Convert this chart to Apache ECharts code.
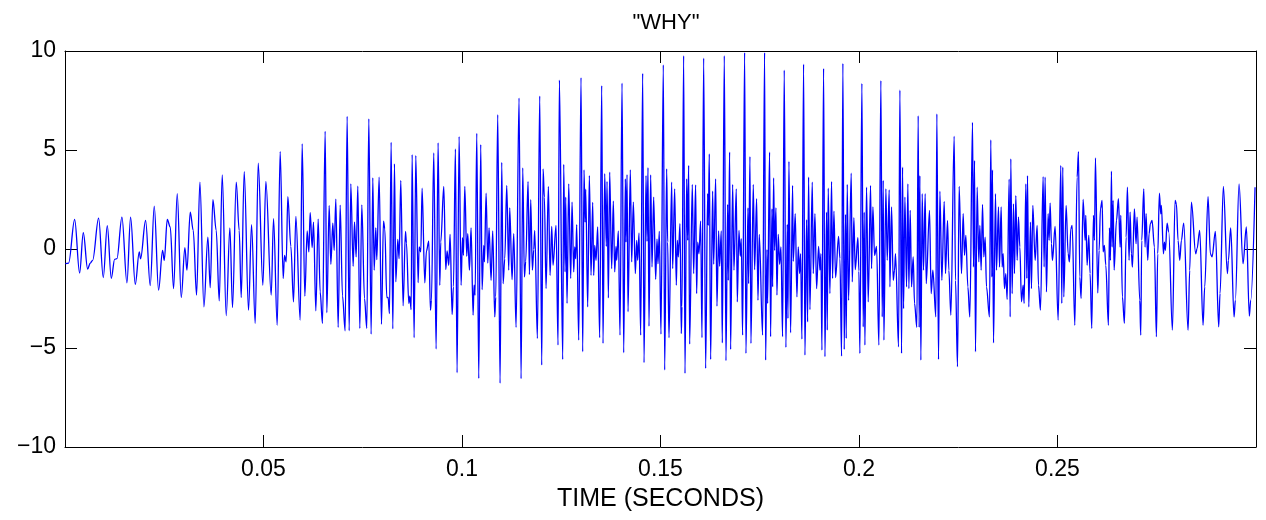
<!DOCTYPE html>
<html><head><meta charset="utf-8">
<script src="https://cdn.jsdelivr.net/npm/echarts@6/dist/echarts.min.js"></script>
<style>html,body{margin:0;padding:0;background:#fff}#c{width:1266px;height:520px}</style>
</head><body><div id="c"></div>
<script>
// waveform turning points: [time in ms, amplitude]
const wave000to050 = [[0.08,-0.74],[0.91,-0.71],[2.43,1.49],[3.68,-1.21],[4.61,0.82],[5.70,-1.01],[6.37,-0.71],[6.96,-0.57],[8.47,1.56],[9.64,-1.44],[10.65,1.18],[11.66,-1.48],[12.50,-0.52],[13.08,-0.49],[14.34,1.61],[15.60,-1.71],[16.52,1.61],[17.70,-1.78],[18.71,-0.15],[19.04,-0.49],[20.30,1.44],[21.47,-1.85],[22.48,2.17],[23.57,-2.08],[24.58,-0.07],[25.00,-0.57],[25.76,1.49],[26.51,1.11],[27.35,-2.00],[28.27,2.79],[29.28,-2.45],[30.20,0.07],[30.71,-1.07],[31.55,1.86],[32.30,0.94],[33.14,-2.33],[33.98,3.38],[34.99,-2.92],[35.99,0.60],[36.58,-1.95],[37.25,2.49],[38.09,0.94],[38.85,-2.62],[39.60,3.74],[40.61,-3.36],[41.53,1.07],[42.20,-2.96],[43.13,3.38],[43.88,0.94],[44.39,-2.45],[45.14,3.91],[46.23,-3.09],[46.99,1.23],[47.91,-3.76],[48.67,4.33],[49.84,-1.83]];
const wave050to100 = [[50.60,3.41],[51.94,-2.33],[52.53,1.53],[53.45,-3.85],[54.20,4.92],[54.96,-1.49],[55.29,-0.32],[55.71,-0.65],[56.13,2.65],[56.89,0.13],[57.56,-2.67],[58.15,1.65],[59.24,-3.59],[59.74,5.31],[60.41,-2.38],[61.00,0.91],[61.42,-0.15],[61.76,1.83],[62.26,0.07],[62.60,1.36],[63.18,-3.12],[63.77,1.51],[64.27,-2.17],[64.86,-3.76],[65.53,5.94],[65.95,-3.22],[66.54,2.20],[66.96,-0.77],[67.46,1.31],[67.80,-0.07],[68.22,2.52],[68.81,-3.96],[69.31,2.22],[69.90,-2.37],[70.57,-4.13],[71.07,6.70],[71.58,-4.13],[71.99,3.29],[72.58,-0.87],[72.92,1.36],[73.34,-0.40],[73.76,3.17],[74.26,-4.01],[74.76,2.23],[75.44,-2.50],[76.02,-4.01],[76.53,6.57],[77.11,-4.30],[77.53,3.59],[77.87,-1.07],[78.29,1.07],[78.54,-0.54],[79.13,3.63],[79.72,-3.80],[80.22,1.41],[80.55,1.02],[81.06,-2.45],[81.39,-2.45],[81.73,-3.26],[82.15,5.39],[82.57,-4.03],[82.99,4.30],[83.32,-1.66],[83.83,0.49],[84.16,-0.49],[84.58,3.46],[85.17,-2.87],[85.76,0.89],[86.01,0.30],[86.60,-2.75],[86.85,-2.38],[87.19,-3.06],[87.44,4.77],[87.94,-4.48],[88.36,4.72],[88.95,-1.70],[89.20,0.10],[89.62,-0.15],[89.95,3.07],[90.63,-1.71],[91.04,-0.10],[91.63,0.40],[92.05,-3.09],[92.30,-2.59],[92.89,4.85],[93.48,-5.05],[93.98,5.36],[94.40,-1.83],[94.65,0.35],[95.41,3.16],[95.91,-1.04],[96.25,-0.10],[96.67,-0.82],[97.00,0.74],[97.51,-3.31],[97.84,-1.91],[98.34,5.05],[98.76,-6.25],[99.27,5.68],[99.77,-1.83]];
const wave100to150 = [[100.11,0.57],[100.36,-0.32],[100.70,3.16],[101.20,-0.37],[101.45,0.77],[101.87,-1.07],[102.29,1.07],[102.79,-3.34],[103.04,-1.83],[103.30,-2.33],[103.72,5.84],[104.22,-6.53],[104.72,5.27],[105.06,-2.05],[105.48,0.18],[105.65,-0.65],[106.07,2.82],[106.49,-0.71],[106.82,1.07],[107.32,-1.58],[107.74,0.91],[108.25,-3.43],[108.50,-2.42],[109.00,6.78],[109.59,-6.78],[110.01,4.38],[110.35,-1.75],[110.77,-0.49],[111.27,3.21],[111.77,-1.07],[112.02,2.08],[112.61,-1.54],[113.03,0.77],[113.62,-3.96],[114.37,7.62],[114.88,-6.55],[115.30,4.10],[115.72,-1.41],[116.05,-0.62],[116.64,3.41],[116.98,-1.29],[117.31,2.49],[117.73,-1.07],[118.07,-0.03],[118.32,0.94],[118.99,-4.52],[119.58,7.72],[120.08,-5.86],[120.42,4.05],[120.75,2.62],[121.17,-2.00],[121.76,3.16],[122.18,-1.33],[122.60,1.14],[122.93,-0.82],[123.69,1.19],[124.19,-4.85],[124.53,8.53],[125.37,-5.58],[125.62,4.27],[125.96,-1.16],[126.12,2.62],[126.46,-2.75],[126.88,3.29],[127.38,-1.49],[127.72,2.37],[128.14,-1.16],[128.39,0.10],[128.64,-0.49],[128.89,1.23],[129.40,-4.60],[129.98,8.66],[130.40,-5.19],[130.74,4.00],[130.99,1.36],[131.16,3.02],[131.66,-2.92],[132.08,3.71],[132.50,-1.33],[132.92,2.35],[133.17,-1.33],[133.43,0.18],[133.76,-0.57],[134.18,1.11],[134.68,-4.48],[135.19,8.25],[135.52,-4.77],[135.94,3.80],[136.36,0.13],[136.53,3.41],[136.87,-2.47],[137.20,3.88],[137.70,-0.99],[138.12,2.42],[138.46,-1.16],[138.79,0.13],[138.96,-0.57],[139.38,0.91],[139.80,-4.35],[140.31,8.38],[140.73,-5.24],[141.15,3.54],[141.31,0.35],[141.57,3.76],[141.82,-3.17],[142.40,4.00],[142.74,-0.65],[143.16,2.37],[143.66,-1.24],[144.00,0.44],[144.25,-0.57],[144.59,0.81],[145.01,-4.35],[145.51,8.87],[145.85,-5.74],[146.35,3.71],[146.60,0.39],[146.85,4.11],[147.10,-3.90],[147.52,3.74],[147.86,-0.91],[148.28,2.62],[148.78,-1.53],[149.12,0.50],[149.37,-0.74],[149.70,0.89]];
const wave150to200 = [[150.12,-4.30],[150.71,9.30],[151.05,-6.11],[151.55,4.05],[151.80,0.35],[152.14,-4.48],[152.81,3.38],[153.06,-0.99],[153.57,3.04],[153.98,-1.83],[154.24,0.44],[154.49,-0.40],[154.91,1.28],[155.24,-4.27],[155.41,-2.92],[155.83,9.76],[156.17,-6.28],[156.59,3.54],[156.84,0.44],[157.09,4.22],[157.34,-4.80],[158.01,3.26],[158.35,-1.24],[158.85,3.24],[159.10,-2.25],[159.36,0.35],[159.69,-0.24],[160.11,1.41],[160.45,-4.48],[160.87,9.64],[161.37,-6.03],[161.87,2.79],[162.04,1.19],[162.29,4.80],[162.63,-5.58],[163.13,2.92],[163.39,-0.77],[163.89,3.54],[164.22,-2.89],[164.64,0.91],[164.89,-0.87],[165.31,0.91],[165.57,-4.74],[166.07,9.76],[166.49,-5.64],[166.91,2.25],[167.08,-1.58],[167.41,4.89],[167.66,-5.07],[168.17,3.26],[168.50,-1.07],[169.09,3.04],[169.34,-2.67],[169.76,0.94],[170.10,-0.37],[170.35,0.52],[170.68,-4.35],[171.19,9.92],[171.52,-5.27],[172.03,2.08],[172.19,-1.75],[172.53,4.67],[172.78,-4.77],[173.37,3.26],[173.71,-1.04],[174.21,2.54],[174.55,-2.59],[174.88,0.74],[175.72,-4.35],[176.22,9.92],[176.48,-5.61],[176.81,-0.03],[176.98,-2.75],[177.48,4.89],[177.73,-4.43],[178.07,2.03],[178.24,-1.91],[178.49,3.59],[178.74,-0.07],[179.08,2.08],[179.33,-2.33],[179.66,0.74],[180.00,-0.77],[180.34,0.10],[180.75,-4.43],[181.17,9.03],[181.59,-4.97],[181.93,1.24],[182.10,-3.51],[182.35,4.42],[182.77,-4.23],[183.27,3.21],[183.44,-0.62],[183.94,1.78],[184.36,-2.42],[184.70,0.10],[185.03,-1.24],[185.29,-0.24],[185.62,-4.55],[186.04,9.34],[186.38,-5.36],[186.80,1.48],[187.05,-3.68],[187.30,3.63],[187.64,-3.06],[188.23,3.38],[188.48,-1.24],[188.90,1.78],[189.32,-2.00],[189.82,0.13],[190.16,-1.07],[190.41,-0.24],[190.66,-5.11],[191.08,9.12],[191.42,-5.44],[191.83,1.86],[192.00,-4.10],[192.25,3.07],[192.67,-2.25],[193.09,3.41],[193.34,-1.49],[193.68,1.91],[194.10,-1.44],[194.85,0.64],[195.19,-0.49],[195.61,-5.41],[195.94,9.37],[196.28,-5.07],[196.61,1.75],[196.78,-4.52],[197.04,3.26],[197.37,-2.59],[198.04,3.83],[198.30,-1.66],[198.71,1.58],[199.05,-1.04],[199.72,0.57],[199.97,-1.11]];
const wave200to250 = [[200.22,-5.27],[200.73,8.36],[201.06,-3.93],[201.32,1.86],[201.48,-4.85],[201.90,3.12],[202.32,-2.67],[202.91,3.21],[203.16,-0.99],[203.50,2.12],[203.92,-0.32],[204.42,0.13],[205.01,-4.85],[205.51,8.50],[205.85,-3.43],[206.10,3.46],[206.27,-4.60],[206.77,3.04],[207.11,-0.57],[207.61,2.99],[207.78,-1.91],[208.20,2.12],[208.62,-1.58],[208.95,-1.07],[209.20,-0.24],[209.96,-4.94],[210.30,8.03],[210.72,-5.27],[210.97,4.13],[211.22,-3.01],[211.56,2.62],[211.98,-1.91],[212.31,3.29],[212.56,-2.00],[212.90,1.95],[213.23,-1.91],[213.65,-0.40],[213.99,-2.75],[214.57,-3.96],[214.91,6.73],[215.16,-3.96],[215.33,3.71],[215.58,-5.61],[215.92,2.79],[216.25,-1.07],[216.67,2.79],[216.93,-1.75],[217.76,1.95],[218.18,-2.25],[218.60,-1.07],[219.36,-3.43],[219.61,6.82],[220.03,-5.58],[220.37,2.92],[220.87,-1.58],[221.46,2.40],[221.79,-1.24],[222.30,1.44],[222.63,-1.07],[223.14,-3.34],[223.97,5.69],[224.31,-1.58],[224.81,-5.94],[225.23,3.16],[225.82,-1.24],[226.24,1.78],[226.58,-0.32],[226.91,0.69],[227.42,-1.91],[227.92,-3.43],[228.59,6.40],[228.84,-0.91],[229.10,4.47],[229.34,-5.19],[229.76,3.12],[230.18,-0.65],[230.44,1.19],[230.77,-1.07],[231.11,2.25],[231.44,-0.40],[231.78,0.60],[232.11,-1.91],[232.87,-3.43],[233.20,5.51],[233.46,-1.41],[233.62,4.00],[233.88,-4.74],[234.38,2.79],[234.63,-1.07],[235.14,2.12],[235.39,-0.91],[235.81,2.12],[236.06,-0.91],[236.31,-0.24],[236.65,-2.00],[236.98,-1.24],[237.32,-2.55],[237.82,3.53],[238.08,-3.43],[238.24,4.55],[238.58,-2.25],[238.91,2.28],[239.16,-1.24],[239.50,2.70],[239.84,-0.57],[240.17,1.61],[240.51,0.10],[240.93,-2.67],[241.35,-1.83],[241.60,-2.75],[242.02,3.29],[242.27,-1.49],[242.44,3.71],[242.77,-2.92],[243.19,1.36],[243.44,-2.00],[243.78,2.20],[244.37,-0.57],[244.87,1.19],[245.21,-1.83],[245.71,-3.09],[246.38,3.66],[246.63,-0.91],[246.88,3.63],[247.22,-2.17],[247.64,1.78],[247.89,0.44],[248.14,2.32],[248.48,0.27],[248.73,-0.57],[249.40,1.14],[250.16,-3.59]];
const wave250to300 = [[250.83,4.22],[251.08,-2.75],[251.33,4.13],[251.58,-2.42],[252.17,2.20],[252.68,-0.24],[253.01,-0.65],[253.35,1.02],[253.69,1.19],[254.36,-3.85],[254.94,3.63],[255.28,4.92],[255.61,-1.41],[255.95,-2.50],[256.45,2.50],[256.96,0.44],[257.12,1.70],[257.46,-0.82],[257.88,0.69],[258.21,-1.24],[258.63,-4.01],[259.05,1.70],[259.31,0.44],[259.56,4.60],[260.14,-2.22],[260.48,-0.07],[260.82,2.03],[261.24,2.45],[261.49,-0.15],[261.82,0.18],[262.16,-0.82],[262.83,-3.85],[263.08,1.07],[263.33,-0.57],[263.59,3.93],[263.76,0.10],[264.01,2.45],[264.26,-1.07],[264.85,1.44],[265.35,2.54],[265.77,0.10],[265.94,1.70],[266.35,-2.42],[266.86,-3.76],[267.28,0.60],[267.61,3.12],[268.03,-0.57],[268.28,1.86],[268.62,-0.24],[268.87,-0.91],[269.37,2.03],[269.79,0.27],[270.04,1.61],[270.72,-2.59],[270.97,-4.35],[271.22,0.44],[271.73,3.04],[272.06,0.10],[272.31,1.78],[272.73,-0.57],[273.07,0.77],[273.40,1.28],[273.82,1.44],[274.41,0.10],[274.91,-4.43],[275.25,-0.24],[275.67,2.82],[276.01,1.78],[276.17,2.20],[276.68,-0.24],[276.93,0.35],[277.18,-0.07],[277.60,1.31],[278.02,0.86],[278.94,-4.10],[279.62,2.45],[279.95,2.28],[280.37,0.44],[280.79,-0.57],[281.21,0.44],[281.80,1.31],[282.89,-4.10],[283.30,-1.07],[283.73,2.37],[284.82,-0.24],[285.15,0.02],[285.82,0.94],[286.66,-3.85],[287.08,-1.91],[287.92,2.65],[288.51,-0.24],[288.93,-0.40],[289.77,0.89],[290.60,-3.93],[290.94,-2.25],[291.78,3.16],[292.79,-1.24],[293.04,-0.57],[293.63,1.07],[294.47,-3.43],[294.80,-2.59],[295.73,3.29],[296.73,-0.74],[297.57,1.11],[298.32,-3.39],[298.66,-2.59],[299.76,3.12]];

const xTickValues = [0.05, 0.1, 0.15, 0.2, 0.25];
const yTickValues = [-10, -5, 0, 5, 10];
const xRange = [0, 0.3];
const yRange = [-10, 10];
const chartTitle = '"WHY"';
const xAxisTitle = 'TIME (SECONDS)';

const points = [].concat(wave000to050, wave050to100, wave100to150, wave150to200, wave200to250, wave250to300)
  .map(p => [p[0] / 1000, p[1]]);

const FONT = "'Liberation Sans', Arial, Helvetica, sans-serif";
const black = '#000';
const tickCommon = { show: true, inside: true, length: 12, lineStyle: { color: black, width: 1 } };

function fmtX(v) {
  const ok = xTickValues.some(t => Math.abs(t - v) < 1e-9);
  return ok ? String(+v.toFixed(2)) : '';
}
function fmtY(v) {
  return String(v).replace('-', '\u2212');
}

const chart = echarts.init(document.getElementById('c'), null, { renderer: 'canvas' });
chart.setOption({
  animation: false,
  backgroundColor: '#fff',
  title: {
    text: chartTitle, left: 661, top: 7, textAlign: 'center',
    textStyle: { fontFamily: FONT, fontSize: 22, fontWeight: 'normal', color: black }
  },
  grid: { left: 65, right: 10, top: 51, bottom: 73, containLabel: false, show: false },
  xAxis: [
    {
      type: 'value', min: xRange[0], max: xRange[1], interval: 0.05, position: 'bottom',
      axisLine: { show: true, onZero: false, lineStyle: { color: black, width: 1 } },
      axisTick: tickCommon,
      axisLabel: { show: true, formatter: fmtX, margin: 11, fontFamily: FONT, fontSize: 23, color: black, showMinLabel: true, showMaxLabel: true },
      splitLine: { show: false },
      name: xAxisTitle, nameLocation: 'middle', nameGap: 40,
      nameTextStyle: { fontFamily: FONT, fontSize: 25, color: black }
    },
    {
      type: 'value', min: xRange[0], max: xRange[1], interval: 0.05, position: 'top',
      axisLine: { show: true, onZero: false, lineStyle: { color: black, width: 1 } },
      axisTick: tickCommon, axisLabel: { show: false }, splitLine: { show: false }
    }
  ],
  yAxis: [
    {
      type: 'value', min: yRange[0], max: yRange[1], interval: 5, position: 'left',
      axisLine: { show: true, onZero: false, lineStyle: { color: black, width: 1 } },
      axisTick: tickCommon,
      axisLabel: { show: true, formatter: fmtY, margin: 9, fontFamily: FONT, fontSize: 23, color: black },
      splitLine: { show: false }
    },
    {
      type: 'value', min: yRange[0], max: yRange[1], interval: 5, position: 'right',
      axisLine: { show: true, onZero: false, lineStyle: { color: black, width: 1 } },
      axisTick: tickCommon, axisLabel: { show: false }, splitLine: { show: false }
    }
  ],
  series: [{
    type: 'line', xAxisIndex: 0, yAxisIndex: 0,
    data: points, showSymbol: false, symbol: 'none',
    smooth: 0.35, smoothMonotone: 'x', sampling: null, clip: true,
    lineStyle: { color: '#0000ff', width: 1.3 },
    emphasis: { disabled: true }
  }]
});
</script></body></html>
